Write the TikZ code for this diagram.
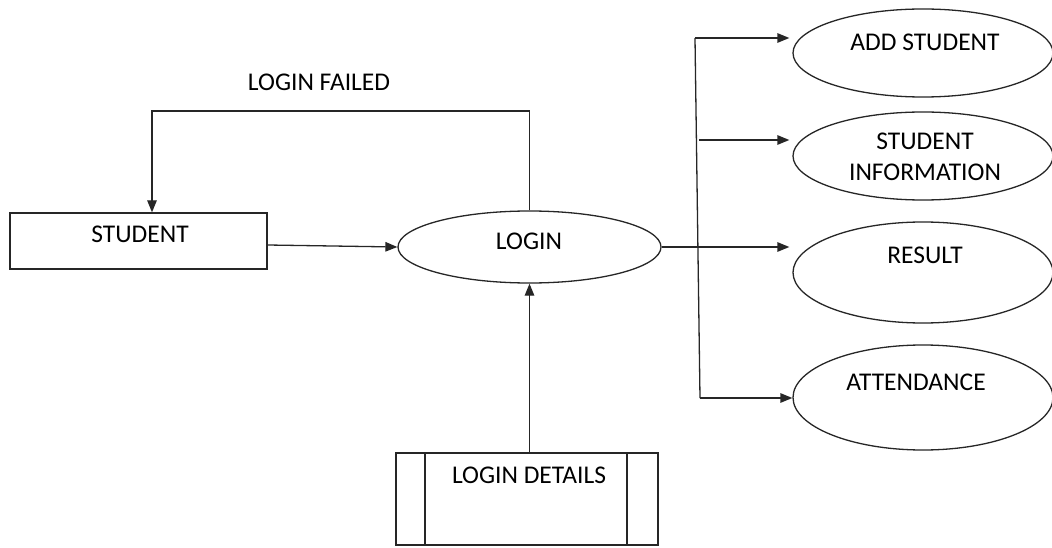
\documentclass[tikz,border=0pt]{standalone}
\usepackage{fontspec}
\setmainfont{Carlito}
\usetikzlibrary{shapes.geometric,arrows.meta}
\tikzset{
  line/.style={draw=black!85, line width=1.3pt},
  flow/.style={line, -{Triangle[length=12pt,width=9.5pt]}},
  proc/.style={line, ellipse, inner sep=0pt, fill=white},
  entity/.style={line, rectangle, inner sep=0pt, fill=white},
  txt/.style={font=\fontsize{25.5}{31}\selectfont, inner sep=0pt, align=center, text=black}
}
\begin{document}
\begin{tikzpicture}[x=1pt,y=-1pt]
\useasboundingbox (0,0) rectangle (1052,548);

% external entity and data store
\node[entity, minimum width=257pt, minimum height=56pt] (student) at (138.5,241) {};
\node[txt] (studentt) at (140,234) {STUDENT};

\node[entity, minimum width=262pt, minimum height=92pt] (ld) at (527,499) {};
\draw[line] (425,453) -- (425,545);
\draw[line] (627,453) -- (627,545);
\node[txt] (ldt) at (529,475) {LOGIN DETAILS};

% processes
\node[proc, minimum width=263pt, minimum height=72pt] (login) at (529.5,247) {};
\node[txt] (logint) at (529,241) {LOGIN};

\node[proc, minimum width=260pt, minimum height=88pt] (add) at (923,53) {};
\node[txt] (addt) at (925,42) {ADD STUDENT};

\node[proc, minimum width=260pt, minimum height=88pt] (info) at (923,156) {};
\node[txt] (infot) at (925,157) {STUDENT\\INFORMATION};

\node[proc, minimum width=260pt, minimum height=101pt] (result) at (923,272.5) {};
\node[txt] (resultt) at (925,255) {RESULT};

\node[proc, minimum width=260pt, minimum height=105pt] (att) at (923,397.5) {};
\node[txt] (attt) at (916,382) {ATTENDANCE};

\node[txt] (failt) at (319,82) {LOGIN FAILED};

% flows
\draw[flow] ([yshift=-4pt]student.east) -- (login.west);
\coordinate (lf) at (152,111);
\draw[flow] (login.north) |- (lf) -- (lf |- student.north);
\draw[flow] (ld.north -| login.south) -- (login.south);

% distribution bus
\coordinate (bt) at (695,38);
\coordinate (bb) at (700,398);
\coordinate (b2) at (699,140);
\draw[line] (bt) -- (bb);
\draw[flow] (bt) -- ([xshift=-3pt]bt -| add.west);
\draw[flow] (b2) -- ([xshift=-3pt]b2 -| info.west);
\draw[flow] (login.east) -- ([xshift=-3pt]login.east -| result.west);
\draw[flow] (bb) -- (bb -| att.west);
\end{tikzpicture}
\end{document}
